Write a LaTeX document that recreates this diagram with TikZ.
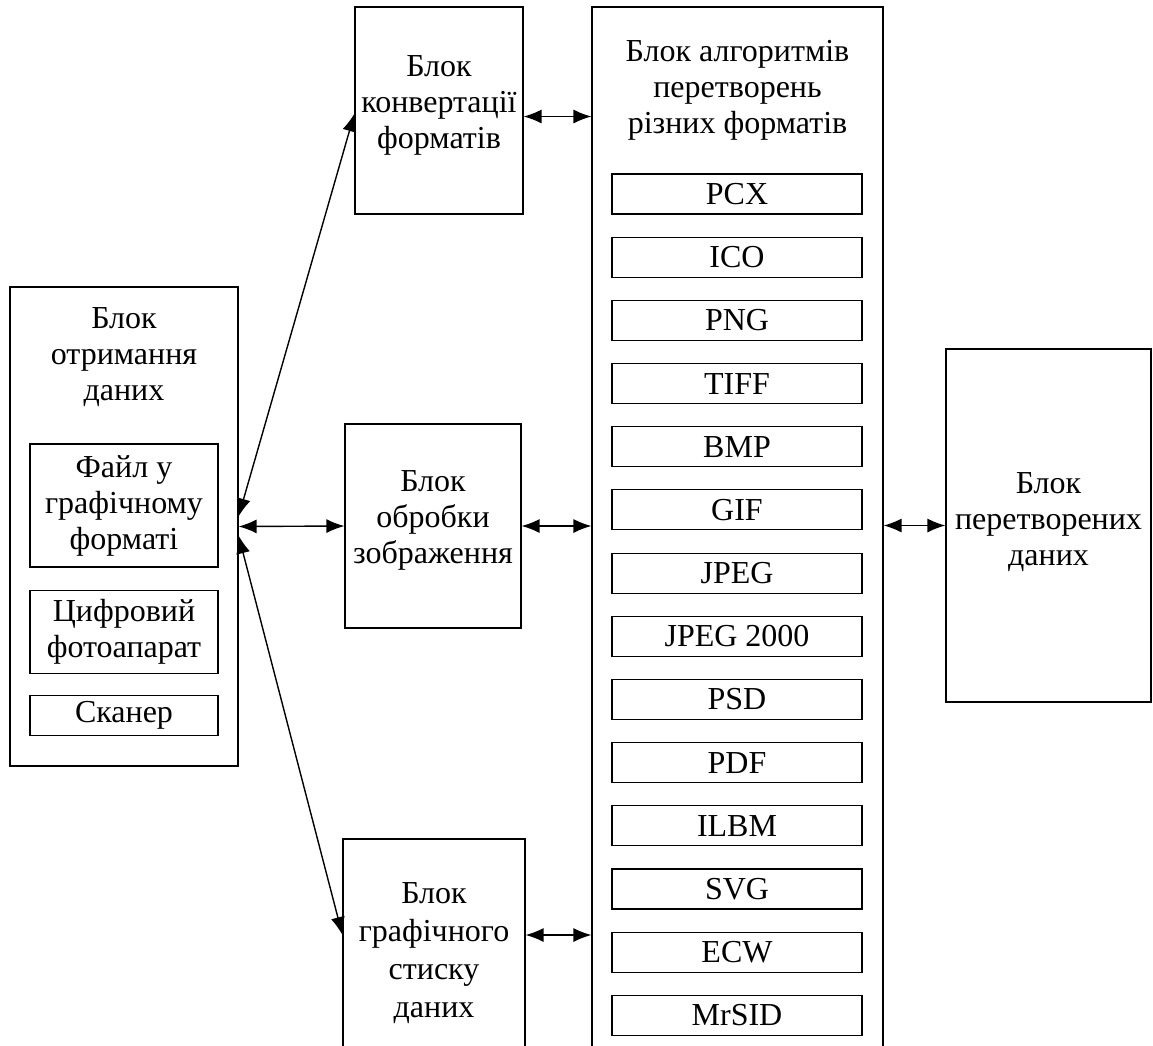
\documentclass[tikz,border=0pt]{standalone}
\usepackage{fontspec}
\setmainfont{Liberation Serif}
\usetikzlibrary{arrows.meta,positioning}

\begin{document}
\begin{tikzpicture}[x=1pt,y=1pt,
    font=\fontsize{32}{36}\selectfont,
    box/.style={draw,line width=1.1pt,inner sep=0pt},
    fmt/.style={box,minimum width=250pt,minimum height=40pt},
    conn/.style={{Latex[length=18pt,width=14pt]}-{Latex[length=18pt,width=14pt]},line width=1.4pt}]
  \useasboundingbox (0,0) rectangle (1153,-1045);
  \clip (0,0) rectangle (1153,-1045);
  % data input
  \node[box,minimum width=228pt,minimum height=479pt] (recv) at (124,-526.5) {};
  \node[align=center,below=18pt of recv.north] (recvt) {Блок\\отримання\\даних};
  \node[box,align=center,minimum width=188pt,minimum height=123pt] (file) at (124,-505.5) {Файл у\\графічному\\форматі};
  \node[box,align=center,minimum width=188pt,minimum height=83pt,below=22pt of file] (cam) {Цифровий\\фотоапарат};
  \node[box,minimum width=188pt,minimum height=40pt,below=21pt of cam] (scan) {Сканер};
  % middle column
  \node[box,minimum width=168pt,minimum height=207pt] (conv) at (439,-110.5) {};
  \node[align=center] (convt) at (439,-105) {Блок\\конвертації\\форматів};
  \node[box,minimum width=176pt,minimum height=204pt] (proc) at (433,-526) {};
  \node[align=center] (proct) at (433,-520) {Блок\\обробки\\зображення};
  \node[box,minimum width=182pt,minimum height=226pt] (compr) at (434,-952) {};
  \node[align=center,font=\fontsize{32}{38}\selectfont] (comprt) at (434,-953) {Блок\\графічного\\стиску\\даних};
  % algorithms
  \node[box,minimum width=291pt,minimum height=1060pt] (algo) at (737.5,-537) {};
  \node[align=center,below=30pt of algo.north] (algot) {Блок алгоритмів\\перетворень\\різних форматів};
  \node[fmt] (f1) at (737,-194) {PCX};
  \foreach \f [count=\i from 2, evaluate=\i as \j using int(\i-1)] in
      {ICO,PNG,TIFF,BMP,GIF,JPEG,JPEG 2000,PSD,PDF,ILBM,SVG,ECW,MrSID}
    \node[fmt,below=22.08pt of f\j] (f\i) {\f};
  % output
  \node[box,minimum width=205pt,minimum height=353pt] (res) at (1048.5,-525.5) {};
  \node[align=center] (rest) at (1048.5,-522) {Блок\\перетворених\\даних};
  \draw[conn] ([yshift=10pt]recv.east) -- ([yshift=-3pt]conv.west);
  \draw[conn] (recv.east) -- (proc.west);
  \draw[conn] ([yshift=-9pt]recv.east) -- ([yshift=17pt]compr.west);
  \draw[conn] ([yshift=-6pt]conv.east) -- ([yshift=-6pt]conv.east -| algo.west);
  \draw[conn] (proc.east) -- (proc.east -| algo.west);
  \draw[conn] ([yshift=17pt]compr.east) -- ([yshift=17pt]compr.east -| algo.west);
  \draw[conn] (res.west -| algo.east) -- (res.west);
\end{tikzpicture}
\end{document}
